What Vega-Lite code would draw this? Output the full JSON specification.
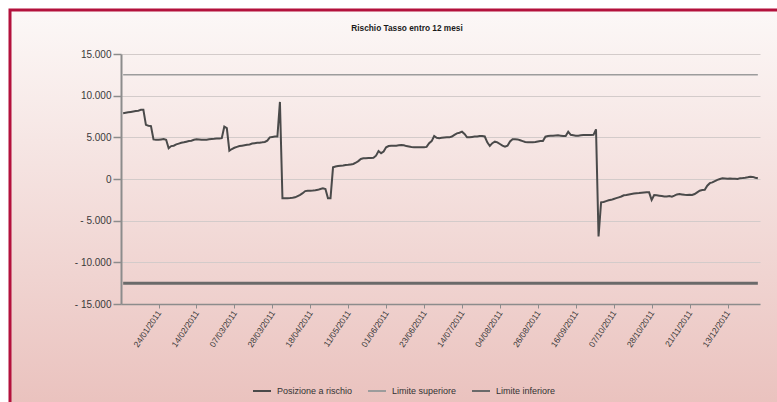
{
  "$schema": "https://vega.github.io/schema/vega-lite/v6.json",
  "width": 770,
  "height": 395,
  "autosize": "none",
  "padding": {"left": 10, "top": 10, "right": 0, "bottom": 0},
  "background": "white",
  "title": {"text": "Rischio Tasso entro 12 mesi", "anchor": "middle", "frame": "group", "orient": "top", "offset": -27, "baseline": "middle", "dx": 12, "font": "Liberation Sans, sans-serif", "fontSize": 8.3, "fontWeight": "bold", "color": "#1a1a1a"},
  "datasets": {
    "lim": [
      {"date": "2011-01-03", "serie": "Limite superiore", "value": 12500},
      {"date": "2011-12-30", "serie": "Limite superiore", "value": 12500},
      {"date": "2011-01-03", "serie": "Limite inferiore", "value": -12500},
      {"date": "2011-12-30", "serie": "Limite inferiore", "value": -12500}
    ],
    "pos": [
      {"date":"2011-01-03","serie":"Posizione a rischio","value":7900},
      {"date":"2011-01-04","serie":"Posizione a rischio","value":7950},
      {"date":"2011-01-05","serie":"Posizione a rischio","value":8000},
      {"date":"2011-01-07","serie":"Posizione a rischio","value":8050},
      {"date":"2011-01-10","serie":"Posizione a rischio","value":8100},
      {"date":"2011-01-11","serie":"Posizione a rischio","value":8150},
      {"date":"2011-01-12","serie":"Posizione a rischio","value":8200},
      {"date":"2011-01-13","serie":"Posizione a rischio","value":8300},
      {"date":"2011-01-14","serie":"Posizione a rischio","value":8300},
      {"date":"2011-01-17","serie":"Posizione a rischio","value":6500},
      {"date":"2011-01-18","serie":"Posizione a rischio","value":6400},
      {"date":"2011-01-19","serie":"Posizione a rischio","value":6350},
      {"date":"2011-01-20","serie":"Posizione a rischio","value":4750},
      {"date":"2011-01-21","serie":"Posizione a rischio","value":4700},
      {"date":"2011-01-24","serie":"Posizione a rischio","value":4700},
      {"date":"2011-01-25","serie":"Posizione a rischio","value":4750},
      {"date":"2011-01-26","serie":"Posizione a rischio","value":4800},
      {"date":"2011-01-27","serie":"Posizione a rischio","value":4700},
      {"date":"2011-01-28","serie":"Posizione a rischio","value":3700},
      {"date":"2011-01-31","serie":"Posizione a rischio","value":3950},
      {"date":"2011-02-01","serie":"Posizione a rischio","value":4000},
      {"date":"2011-02-02","serie":"Posizione a rischio","value":4150},
      {"date":"2011-02-03","serie":"Posizione a rischio","value":4250},
      {"date":"2011-02-04","serie":"Posizione a rischio","value":4350},
      {"date":"2011-02-07","serie":"Posizione a rischio","value":4400},
      {"date":"2011-02-08","serie":"Posizione a rischio","value":4480},
      {"date":"2011-02-09","serie":"Posizione a rischio","value":4550},
      {"date":"2011-02-10","serie":"Posizione a rischio","value":4600},
      {"date":"2011-02-11","serie":"Posizione a rischio","value":4700},
      {"date":"2011-02-14","serie":"Posizione a rischio","value":4760},
      {"date":"2011-02-15","serie":"Posizione a rischio","value":4750},
      {"date":"2011-02-16","serie":"Posizione a rischio","value":4700},
      {"date":"2011-02-17","serie":"Posizione a rischio","value":4700},
      {"date":"2011-02-18","serie":"Posizione a rischio","value":4720},
      {"date":"2011-02-21","serie":"Posizione a rischio","value":4760},
      {"date":"2011-02-22","serie":"Posizione a rischio","value":4800},
      {"date":"2011-02-23","serie":"Posizione a rischio","value":4820},
      {"date":"2011-02-24","serie":"Posizione a rischio","value":4850},
      {"date":"2011-02-25","serie":"Posizione a rischio","value":4870},
      {"date":"2011-02-28","serie":"Posizione a rischio","value":4900},
      {"date":"2011-03-01","serie":"Posizione a rischio","value":6280},
      {"date":"2011-03-02","serie":"Posizione a rischio","value":6100},
      {"date":"2011-03-03","serie":"Posizione a rischio","value":3400},
      {"date":"2011-03-04","serie":"Posizione a rischio","value":3600},
      {"date":"2011-03-07","serie":"Posizione a rischio","value":3750},
      {"date":"2011-03-08","serie":"Posizione a rischio","value":3850},
      {"date":"2011-03-09","serie":"Posizione a rischio","value":3950},
      {"date":"2011-03-10","serie":"Posizione a rischio","value":4000},
      {"date":"2011-03-11","serie":"Posizione a rischio","value":4050},
      {"date":"2011-03-14","serie":"Posizione a rischio","value":4100},
      {"date":"2011-03-15","serie":"Posizione a rischio","value":4150},
      {"date":"2011-03-16","serie":"Posizione a rischio","value":4250},
      {"date":"2011-03-17","serie":"Posizione a rischio","value":4300},
      {"date":"2011-03-18","serie":"Posizione a rischio","value":4350},
      {"date":"2011-03-21","serie":"Posizione a rischio","value":4360},
      {"date":"2011-03-22","serie":"Posizione a rischio","value":4400},
      {"date":"2011-03-23","serie":"Posizione a rischio","value":4450},
      {"date":"2011-03-24","serie":"Posizione a rischio","value":4600},
      {"date":"2011-03-25","serie":"Posizione a rischio","value":5000},
      {"date":"2011-03-28","serie":"Posizione a rischio","value":5050},
      {"date":"2011-03-29","serie":"Posizione a rischio","value":5100},
      {"date":"2011-03-30","serie":"Posizione a rischio","value":5100},
      {"date":"2011-03-31","serie":"Posizione a rischio","value":9250},
      {"date":"2011-04-01","serie":"Posizione a rischio","value":-2300},
      {"date":"2011-04-04","serie":"Posizione a rischio","value":-2300},
      {"date":"2011-04-05","serie":"Posizione a rischio","value":-2300},
      {"date":"2011-04-06","serie":"Posizione a rischio","value":-2280},
      {"date":"2011-04-07","serie":"Posizione a rischio","value":-2250},
      {"date":"2011-04-08","serie":"Posizione a rischio","value":-2200},
      {"date":"2011-04-11","serie":"Posizione a rischio","value":-2050},
      {"date":"2011-04-12","serie":"Posizione a rischio","value":-1900},
      {"date":"2011-04-13","serie":"Posizione a rischio","value":-1700},
      {"date":"2011-04-14","serie":"Posizione a rischio","value":-1450},
      {"date":"2011-04-15","serie":"Posizione a rischio","value":-1400},
      {"date":"2011-04-18","serie":"Posizione a rischio","value":-1400},
      {"date":"2011-04-19","serie":"Posizione a rischio","value":-1380},
      {"date":"2011-04-20","serie":"Posizione a rischio","value":-1350},
      {"date":"2011-04-21","serie":"Posizione a rischio","value":-1300},
      {"date":"2011-04-26","serie":"Posizione a rischio","value":-1200},
      {"date":"2011-04-27","serie":"Posizione a rischio","value":-1120},
      {"date":"2011-04-28","serie":"Posizione a rischio","value":-1200},
      {"date":"2011-04-29","serie":"Posizione a rischio","value":-2320},
      {"date":"2011-05-02","serie":"Posizione a rischio","value":-2320},
      {"date":"2011-05-03","serie":"Posizione a rischio","value":1400},
      {"date":"2011-05-04","serie":"Posizione a rischio","value":1500},
      {"date":"2011-05-05","serie":"Posizione a rischio","value":1550},
      {"date":"2011-05-06","serie":"Posizione a rischio","value":1600},
      {"date":"2011-05-09","serie":"Posizione a rischio","value":1620},
      {"date":"2011-05-10","serie":"Posizione a rischio","value":1680},
      {"date":"2011-05-11","serie":"Posizione a rischio","value":1700},
      {"date":"2011-05-12","serie":"Posizione a rischio","value":1750},
      {"date":"2011-05-13","serie":"Posizione a rischio","value":1800},
      {"date":"2011-05-16","serie":"Posizione a rischio","value":1950},
      {"date":"2011-05-17","serie":"Posizione a rischio","value":2150},
      {"date":"2011-05-18","serie":"Posizione a rischio","value":2400},
      {"date":"2011-05-19","serie":"Posizione a rischio","value":2480},
      {"date":"2011-05-20","serie":"Posizione a rischio","value":2500},
      {"date":"2011-05-23","serie":"Posizione a rischio","value":2520},
      {"date":"2011-05-24","serie":"Posizione a rischio","value":2520},
      {"date":"2011-05-25","serie":"Posizione a rischio","value":2550},
      {"date":"2011-05-26","serie":"Posizione a rischio","value":2800},
      {"date":"2011-05-27","serie":"Posizione a rischio","value":3350},
      {"date":"2011-05-30","serie":"Posizione a rischio","value":3100},
      {"date":"2011-05-31","serie":"Posizione a rischio","value":3300},
      {"date":"2011-06-01","serie":"Posizione a rischio","value":3800},
      {"date":"2011-06-03","serie":"Posizione a rischio","value":3960},
      {"date":"2011-06-06","serie":"Posizione a rischio","value":4000},
      {"date":"2011-06-07","serie":"Posizione a rischio","value":4000},
      {"date":"2011-06-08","serie":"Posizione a rischio","value":4000},
      {"date":"2011-06-09","serie":"Posizione a rischio","value":4050},
      {"date":"2011-06-10","serie":"Posizione a rischio","value":4080},
      {"date":"2011-06-13","serie":"Posizione a rischio","value":4050},
      {"date":"2011-06-14","serie":"Posizione a rischio","value":3950},
      {"date":"2011-06-15","serie":"Posizione a rischio","value":3900},
      {"date":"2011-06-16","serie":"Posizione a rischio","value":3850},
      {"date":"2011-06-17","serie":"Posizione a rischio","value":3820},
      {"date":"2011-06-20","serie":"Posizione a rischio","value":3800},
      {"date":"2011-06-21","serie":"Posizione a rischio","value":3800},
      {"date":"2011-06-22","serie":"Posizione a rischio","value":3800},
      {"date":"2011-06-23","serie":"Posizione a rischio","value":3820},
      {"date":"2011-06-24","serie":"Posizione a rischio","value":3850},
      {"date":"2011-06-27","serie":"Posizione a rischio","value":4300},
      {"date":"2011-06-28","serie":"Posizione a rischio","value":4550},
      {"date":"2011-06-29","serie":"Posizione a rischio","value":5160},
      {"date":"2011-06-30","serie":"Posizione a rischio","value":4950},
      {"date":"2011-07-01","serie":"Posizione a rischio","value":4900},
      {"date":"2011-07-04","serie":"Posizione a rischio","value":4950},
      {"date":"2011-07-05","serie":"Posizione a rischio","value":4980},
      {"date":"2011-07-06","serie":"Posizione a rischio","value":5000},
      {"date":"2011-07-07","serie":"Posizione a rischio","value":5000},
      {"date":"2011-07-08","serie":"Posizione a rischio","value":5100},
      {"date":"2011-07-11","serie":"Posizione a rischio","value":5300},
      {"date":"2011-07-12","serie":"Posizione a rischio","value":5480},
      {"date":"2011-07-13","serie":"Posizione a rischio","value":5550},
      {"date":"2011-07-14","serie":"Posizione a rischio","value":5680},
      {"date":"2011-07-15","serie":"Posizione a rischio","value":5400},
      {"date":"2011-07-18","serie":"Posizione a rischio","value":5000},
      {"date":"2011-07-19","serie":"Posizione a rischio","value":5000},
      {"date":"2011-07-20","serie":"Posizione a rischio","value":5050},
      {"date":"2011-07-21","serie":"Posizione a rischio","value":5100},
      {"date":"2011-07-22","serie":"Posizione a rischio","value":5100},
      {"date":"2011-07-25","serie":"Posizione a rischio","value":5150},
      {"date":"2011-07-26","serie":"Posizione a rischio","value":5160},
      {"date":"2011-07-27","serie":"Posizione a rischio","value":5100},
      {"date":"2011-07-28","serie":"Posizione a rischio","value":4400},
      {"date":"2011-07-29","serie":"Posizione a rischio","value":3960},
      {"date":"2011-08-01","serie":"Posizione a rischio","value":4300},
      {"date":"2011-08-02","serie":"Posizione a rischio","value":4480},
      {"date":"2011-08-03","serie":"Posizione a rischio","value":4400},
      {"date":"2011-08-04","serie":"Posizione a rischio","value":4200},
      {"date":"2011-08-05","serie":"Posizione a rischio","value":4000},
      {"date":"2011-08-08","serie":"Posizione a rischio","value":3880},
      {"date":"2011-08-09","serie":"Posizione a rischio","value":4000},
      {"date":"2011-08-10","serie":"Posizione a rischio","value":4500},
      {"date":"2011-08-11","serie":"Posizione a rischio","value":4760},
      {"date":"2011-08-12","serie":"Posizione a rischio","value":4760},
      {"date":"2011-08-16","serie":"Posizione a rischio","value":4750},
      {"date":"2011-08-17","serie":"Posizione a rischio","value":4650},
      {"date":"2011-08-18","serie":"Posizione a rischio","value":4550},
      {"date":"2011-08-19","serie":"Posizione a rischio","value":4450},
      {"date":"2011-08-22","serie":"Posizione a rischio","value":4400},
      {"date":"2011-08-23","serie":"Posizione a rischio","value":4400},
      {"date":"2011-08-24","serie":"Posizione a rischio","value":4420},
      {"date":"2011-08-25","serie":"Posizione a rischio","value":4450},
      {"date":"2011-08-26","serie":"Posizione a rischio","value":4500},
      {"date":"2011-08-29","serie":"Posizione a rischio","value":4550},
      {"date":"2011-08-30","serie":"Posizione a rischio","value":4560},
      {"date":"2011-08-31","serie":"Posizione a rischio","value":5080},
      {"date":"2011-09-01","serie":"Posizione a rischio","value":5160},
      {"date":"2011-09-02","serie":"Posizione a rischio","value":5200},
      {"date":"2011-09-05","serie":"Posizione a rischio","value":5200},
      {"date":"2011-09-06","serie":"Posizione a rischio","value":5220},
      {"date":"2011-09-07","serie":"Posizione a rischio","value":5240},
      {"date":"2011-09-08","serie":"Posizione a rischio","value":5200},
      {"date":"2011-09-09","serie":"Posizione a rischio","value":5150},
      {"date":"2011-09-12","serie":"Posizione a rischio","value":5160},
      {"date":"2011-09-13","serie":"Posizione a rischio","value":5680},
      {"date":"2011-09-14","serie":"Posizione a rischio","value":5300},
      {"date":"2011-09-15","serie":"Posizione a rischio","value":5250},
      {"date":"2011-09-16","serie":"Posizione a rischio","value":5200},
      {"date":"2011-09-19","serie":"Posizione a rischio","value":5200},
      {"date":"2011-09-20","serie":"Posizione a rischio","value":5250},
      {"date":"2011-09-21","serie":"Posizione a rischio","value":5280},
      {"date":"2011-09-22","serie":"Posizione a rischio","value":5280},
      {"date":"2011-09-23","serie":"Posizione a rischio","value":5280},
      {"date":"2011-09-26","serie":"Posizione a rischio","value":5280},
      {"date":"2011-09-27","serie":"Posizione a rischio","value":5300},
      {"date":"2011-09-28","serie":"Posizione a rischio","value":5960},
      {"date":"2011-09-29","serie":"Posizione a rischio","value":-6900},
      {"date":"2011-09-30","serie":"Posizione a rischio","value":-2800},
      {"date":"2011-10-03","serie":"Posizione a rischio","value":-2750},
      {"date":"2011-10-04","serie":"Posizione a rischio","value":-2650},
      {"date":"2011-10-05","serie":"Posizione a rischio","value":-2560},
      {"date":"2011-10-06","serie":"Posizione a rischio","value":-2500},
      {"date":"2011-10-07","serie":"Posizione a rischio","value":-2400},
      {"date":"2011-10-10","serie":"Posizione a rischio","value":-2300},
      {"date":"2011-10-11","serie":"Posizione a rischio","value":-2200},
      {"date":"2011-10-12","serie":"Posizione a rischio","value":-2100},
      {"date":"2011-10-13","serie":"Posizione a rischio","value":-1950},
      {"date":"2011-10-14","serie":"Posizione a rischio","value":-1920},
      {"date":"2011-10-17","serie":"Posizione a rischio","value":-1850},
      {"date":"2011-10-18","serie":"Posizione a rischio","value":-1800},
      {"date":"2011-10-19","serie":"Posizione a rischio","value":-1750},
      {"date":"2011-10-20","serie":"Posizione a rischio","value":-1700},
      {"date":"2011-10-21","serie":"Posizione a rischio","value":-1680},
      {"date":"2011-10-24","serie":"Posizione a rischio","value":-1650},
      {"date":"2011-10-25","serie":"Posizione a rischio","value":-1620},
      {"date":"2011-10-26","serie":"Posizione a rischio","value":-1600},
      {"date":"2011-10-27","serie":"Posizione a rischio","value":-1600},
      {"date":"2011-10-28","serie":"Posizione a rischio","value":-2520},
      {"date":"2011-10-31","serie":"Posizione a rischio","value":-1920},
      {"date":"2011-11-02","serie":"Posizione a rischio","value":-1950},
      {"date":"2011-11-03","serie":"Posizione a rischio","value":-2000},
      {"date":"2011-11-04","serie":"Posizione a rischio","value":-2050},
      {"date":"2011-11-07","serie":"Posizione a rischio","value":-2100},
      {"date":"2011-11-08","serie":"Posizione a rischio","value":-2100},
      {"date":"2011-11-09","serie":"Posizione a rischio","value":-2050},
      {"date":"2011-11-10","serie":"Posizione a rischio","value":-2120},
      {"date":"2011-11-11","serie":"Posizione a rischio","value":-2000},
      {"date":"2011-11-14","serie":"Posizione a rischio","value":-1850},
      {"date":"2011-11-15","serie":"Posizione a rischio","value":-1800},
      {"date":"2011-11-16","serie":"Posizione a rischio","value":-1850},
      {"date":"2011-11-17","serie":"Posizione a rischio","value":-1900},
      {"date":"2011-11-18","serie":"Posizione a rischio","value":-1920},
      {"date":"2011-11-21","serie":"Posizione a rischio","value":-1900},
      {"date":"2011-11-22","serie":"Posizione a rischio","value":-1920},
      {"date":"2011-11-23","serie":"Posizione a rischio","value":-1800},
      {"date":"2011-11-24","serie":"Posizione a rischio","value":-1600},
      {"date":"2011-11-25","serie":"Posizione a rischio","value":-1400},
      {"date":"2011-11-28","serie":"Posizione a rischio","value":-1320},
      {"date":"2011-11-29","serie":"Posizione a rischio","value":-1300},
      {"date":"2011-11-30","serie":"Posizione a rischio","value":-800},
      {"date":"2011-12-01","serie":"Posizione a rischio","value":-500},
      {"date":"2011-12-02","serie":"Posizione a rischio","value":-400},
      {"date":"2011-12-05","serie":"Posizione a rischio","value":-250},
      {"date":"2011-12-06","serie":"Posizione a rischio","value":-100},
      {"date":"2011-12-07","serie":"Posizione a rischio","value":0},
      {"date":"2011-12-09","serie":"Posizione a rischio","value":80},
      {"date":"2011-12-12","serie":"Posizione a rischio","value":50},
      {"date":"2011-12-13","serie":"Posizione a rischio","value":20},
      {"date":"2011-12-14","serie":"Posizione a rischio","value":50},
      {"date":"2011-12-15","serie":"Posizione a rischio","value":30},
      {"date":"2011-12-16","serie":"Posizione a rischio","value":40},
      {"date":"2011-12-19","serie":"Posizione a rischio","value":0},
      {"date":"2011-12-20","serie":"Posizione a rischio","value":100},
      {"date":"2011-12-21","serie":"Posizione a rischio","value":120},
      {"date":"2011-12-22","serie":"Posizione a rischio","value":150},
      {"date":"2011-12-23","serie":"Posizione a rischio","value":200},
      {"date":"2011-12-27","serie":"Posizione a rischio","value":280},
      {"date":"2011-12-28","serie":"Posizione a rischio","value":250},
      {"date":"2011-12-29","serie":"Posizione a rischio","value":150},
      {"date":"2011-12-30","serie":"Posizione a rischio","value":80}
    ]
  },
  "encoding": {
    "x": {
      "field": "date", "type": "ordinal",
      "scale": {"type": "point", "range": [111, 750], "padding": 0.85},
      "axis": {
        "orient": "bottom", "offset": -101, "title": null, "grid": false,
        "values": ["2011-01-24","2011-02-14","2011-03-07","2011-03-28","2011-04-18","2011-05-11","2011-06-01","2011-06-23","2011-07-14","2011-08-04","2011-08-26","2011-09-16","2011-10-07","2011-10-28","2011-11-21","2011-12-13"],
        "labelExpr": "slice(datum.value, 8, 10) + '/' + slice(datum.value, 5, 7) + '/' + slice(datum.value, 0, 4)",
        "labelAngle": -56, "labelAlign": "right", "labelBaseline": "middle", "labelOverlap": false,
        "labelFont": "Liberation Sans, sans-serif", "labelFontSize": 8.5, "labelColor": "#3a3a3a", "labelPadding": 3,
        "domainColor": "#8c8c8c", "domainWidth": 1.5, "tickColor": "#8c8c8c", "tickSize": 4, "tickWidth": 1
      }
    },
    "y": {
      "field": "value", "type": "quantitative",
      "scale": {"domain": [-15000, 15000], "range": [294, 44], "nice": false, "zero": false},
      "axis": {
        "orient": "left", "offset": -111, "title": null,
        "values": [-15000, -10000, -5000, 0, 5000, 10000, 15000],
        "labelExpr": "datum.value < 0 ? '- ' + replace(format(abs(datum.value), ','), ',', '.') : replace(format(datum.value, ','), ',', '.')",
        "grid": true, "gridColor": "#d3cbca", "gridWidth": 1,
        "labelFont": "Liberation Sans, sans-serif", "labelFontSize": 10, "labelColor": "#3a3a3a", "labelPadding": 2,
        "domainColor": "#8c8c8c", "domainWidth": 2, "tickColor": "#8c8c8c", "tickSize": 8, "tickWidth": 1.5
      }
    },
    "color": {
      "field": "serie", "type": "nominal",
      "scale": {"domain": ["Posizione a rischio", "Limite superiore", "Limite inferiore"], "range": ["#4a4a4a", "#9c9c9c", "#6a6a6a"]},
      "legend": {
        "orient": "none", "legendX": 242, "legendY": 371, "direction": "horizontal", "title": null,
        "symbolType": "stroke", "symbolSize": 324, "symbolStrokeWidth": 2,
        "labelFont": "Liberation Sans, sans-serif", "labelFontSize": 9, "labelColor": "#333333",
        "labelOffset": 5, "columnPadding": 11
      }
    }
  },
  "layer": [
    {"data": {"name": "lim"}, "transform": [{"filter": "datum.serie == 'Limite superiore'"}], "mark": {"type": "line", "strokeWidth": 1.5}},
    {"data": {"name": "lim"}, "transform": [{"filter": "datum.serie == 'Limite inferiore'"}], "mark": {"type": "line", "strokeWidth": 3}},
    {"data": {"name": "pos"}, "mark": {"type": "line", "strokeWidth": 2}}
  ],
  "config": {
    "view": {
      "fill": {"gradient": "linear", "x1": 0, "y1": 0, "x2": 0, "y2": 1, "stops": [{"offset": 0, "color": "#fcf8f7"}, {"offset": 1, "color": "#eac2be"}]},
      "stroke": "#b3113c", "strokeWidth": 3
    }
  }
}
